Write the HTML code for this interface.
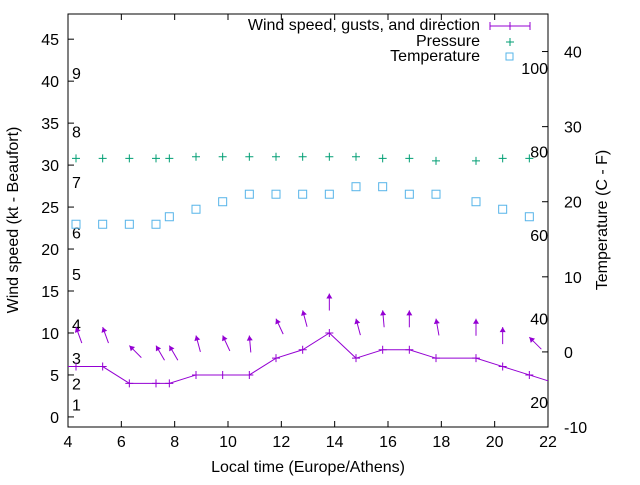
<!DOCTYPE html>
<html><head><meta charset="utf-8"><style>
body{margin:0;background:#fff}
svg{font-family:"Liberation Sans",sans-serif;font-size:16px}
</style></head><body>
<svg id="c" width="640" height="480" viewBox="0 0 640 480" xmlns="http://www.w3.org/2000/svg">
<g id="axes"></g>
<g id="marks"></g>
</svg>
<script>
const times=[4.3,5.3,6.3,7.3,7.8,8.8,9.8,10.8,11.8,12.8,13.8,14.8,15.8,16.8,17.8,19.3,20.3,21.3];
const windSpeed=[6,6,4,4,4,5,5,5,7,8,10,7,8,8,7,7,6,5];
const gusts=[10.7,10.7,8.5,8.5,8.5,9.7,9.7,9.7,11.7,12.7,14.7,11.7,12.7,12.7,11.7,11.7,10.7,9.5];
const windDir=[160,160,135,150,150,165,155,175,155,165,180,165,175,180,170,180,180,135];
const pressure=[30.8,30.8,30.8,30.8,30.8,31,31,31,31,31,31,31,30.8,30.8,30.5,30.5,30.8,30.8];
const temperature=[17,17,17,17,18,19,20,21,21,21,21,22,22,21,21,20,19,18];
const xTicks=[4,6,8,10,12,14,16,18,20,22];
const yTicks=[0,5,10,15,20,25,30,35,40,45];
const y2Ticks=[-10,0,10,20,30,40];
const beaufort=[1,2,3,4,5,6,7,8,9];
const beaufortKt=[1.5,4,7,11,17,22,28,34,41];
const fahrenheit=[20,40,60,80,100];

const L=68,R=548,T=14,B=427;
const X=v=>L+(v-4)/(22-4)*(R-L);
const Y=v=>B-(v+1.2)/(48+1.2)*(B-T);
const Y2=v=>B-(v+10)/(45+10)*(B-T);
const NS="http://www.w3.org/2000/svg";
function mk(p,tag,attrs,txt){const e=document.createElementNS(NS,tag);for(const k in attrs)e.setAttribute(k,attrs[k]);if(txt!==undefined)e.textContent=txt;p.appendChild(e);return e;}
const ax=document.getElementById('axes'),mg=document.getElementById('marks');
const frame=mk(ax,'rect',{x:L,y:T,width:R-L,height:B-T,fill:'none',stroke:'#000','stroke-width':1});


xTicks.forEach(t=>{const x=X(t);
 mk(ax,'line',{x1:x,y1:B,x2:x,y2:B-6,stroke:'#000'});mk(ax,'line',{x1:x,y1:T,x2:x,y2:T+6,stroke:'#000'});
 const e=mk(ax,'text',{x:x,y:B+20,'text-anchor':'middle'},t);
 
 });
yTicks.forEach(t=>{const y=Y(t);
 mk(ax,'line',{x1:L,y1:y,x2:L+6,y2:y,stroke:'#000'});
 const e=mk(ax,'text',{x:L-9,y:y+6,'text-anchor':'end'},t);
 
 });
y2Ticks.forEach(t=>{const y=Y2(t);
 mk(ax,'line',{x1:R,y1:y,x2:R-6,y2:y,stroke:'#000'});
 const e=mk(ax,'text',{x:R+16,y:y+6,'text-anchor':'start'},t);
 
 });
beaufort.forEach((b,i)=>{const e=mk(ax,'text',{x:72,y:Y(beaufortKt[i])+6},b);
 
 });
fahrenheit.forEach(f=>{const e=mk(ax,'text',{x:548,y:Y2((f-32)*5/9)+6,'text-anchor':'end'},f);
 
 });
let e=mk(ax,'text',{x:308,y:472,'text-anchor':'middle'},'Local time (Europe/Athens)');

e=mk(ax,'text',{x:0,y:0,'text-anchor':'middle',transform:'translate(18,220) rotate(-90)'},'Wind speed (kt - Beaufort)');

e=mk(ax,'text',{x:0,y:0,'text-anchor':'middle',transform:'translate(607,220) rotate(-90)'},'Temperature (C - F)');


const purple='#9400d3',green='#009e73',blue='#56b4e9';
const pts=times.map((t,i)=>[X(t),Y(windSpeed[i])]);
const s0=(windSpeed[1]-windSpeed[0])/(times[1]-times[0]);const n=times.length;
const s1=(windSpeed[n-1]-windSpeed[n-2])/(times[n-1]-times[n-2]);
const all=[[L,Y(windSpeed[0]-s0*(times[0]-4))],...pts,[R,Y(windSpeed[n-1]+s1*(22-times[n-1]))]];
e=mk(mg,'polyline',{points:all.map(p=>p.join(',')).join(' '),fill:'none',stroke:purple});

pts.forEach(p=>{const g=mk(mg,'path',{d:`M${p[0]-4},${p[1]}h8M${p[0]},${p[1]-4}v8`,stroke:purple});
 });
times.forEach((t,i)=>{const tx=X(t),ty=Y(gusts[i]);const a=windDir[i]*Math.PI/180;const len=17;
 const bx=tx+Math.sin(a)*len, by=ty-Math.cos(a)*len;
 const dx=tx-bx,dy=ty-by,d=Math.hypot(dx,dy),ux=dx/d,uy=dy/d;
 const h=mk(mg,'g',{});
 
 
 mk(h,'line',{x1:bx,y1:by,x2:tx,y2:ty,stroke:purple});
 mk(h,'polygon',{points:`${tx},${ty} ${tx-ux*5-uy*3},${ty-uy*5+ux*3} ${tx-ux*5+uy*3},${ty-uy*5-ux*3}`,fill:purple});});
times.forEach((t,i)=>{const x=X(t),y=Y(pressure[i]);
 const p=mk(mg,'path',{d:`M${x-4},${y}h8M${x},${y-4}v8`,stroke:green});
 });
times.forEach((t,i)=>{const x=X(t),y=Y2(temperature[i]);
 const r=mk(mg,'rect',{x:x-4,y:y-4,width:8,height:8,fill:'none',stroke:blue});
 });
const lg=mk(ax,'g',{});

[['Wind speed, gusts, and direction',30],['Pressure',46],['Temperature',61]].forEach(([s,y])=>{
 const t=mk(lg,'text',{x:480,y:y,'text-anchor':'end'},s);
 });
mk(lg,'path',{d:'M490,26h40M490,22v8M510,22v8M530,22v8',stroke:purple});
mk(lg,'path',{d:'M506,42h8M510,38v8',stroke:green});
mk(lg,'rect',{x:506,y:53,width:7,height:7,fill:'none',stroke:blue});
</script>
</body></html>
